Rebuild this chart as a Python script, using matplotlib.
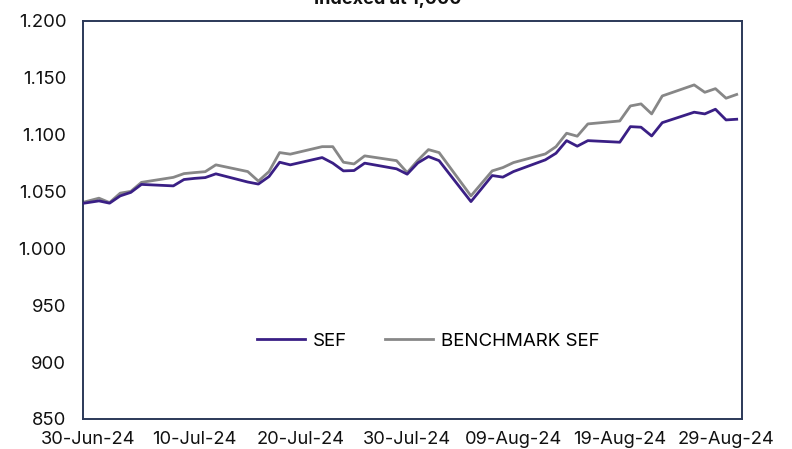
import numpy as np
import pandas as pd
import matplotlib
matplotlib.use("Agg")
import matplotlib.pyplot as plt
import matplotlib.dates as mdates
from matplotlib.ticker import FuncFormatter

# DATA
dates = pd.to_datetime([
    "2024-06-28",
    "2024-07-01", "2024-07-02", "2024-07-03", "2024-07-04", "2024-07-05",
    "2024-07-08", "2024-07-09", "2024-07-10", "2024-07-11", "2024-07-12",
    "2024-07-15", "2024-07-16", "2024-07-17", "2024-07-18", "2024-07-19",
    "2024-07-22", "2024-07-23", "2024-07-24", "2024-07-25", "2024-07-26",
    "2024-07-29", "2024-07-30", "2024-07-31", "2024-08-01", "2024-08-02",
    "2024-08-05", "2024-08-06", "2024-08-07", "2024-08-08", "2024-08-09",
    "2024-08-12", "2024-08-13", "2024-08-14", "2024-08-15", "2024-08-16",
    "2024-08-19", "2024-08-20", "2024-08-21", "2024-08-22", "2024-08-23",
    "2024-08-26", "2024-08-27", "2024-08-28", "2024-08-29", "2024-08-30",
])

sef = [
    1037.5,
    1041.8, 1039.8, 1046.2, 1049.3, 1056.3,
    1055.0, 1060.6, 1061.6, 1062.3, 1065.6,
    1058.4, 1056.6, 1063.2, 1075.8, 1073.5,
    1079.9, 1075.0, 1068.2, 1068.5, 1075.0,
    1070.0, 1065.3, 1075.2, 1080.8, 1077.2,
    1041.2, 1052.6, 1064.1, 1062.7, 1067.6,
    1077.9, 1083.7, 1094.8, 1089.9, 1094.8,
    1093.4, 1107.1, 1106.6, 1098.9, 1110.6,
    1119.8, 1118.3, 1122.4, 1113.0, 1113.6,
]

benchmark = [
    1036.8,
    1044.2, 1040.3, 1048.6, 1050.2, 1058.1,
    1062.5, 1065.8, 1066.7, 1067.5, 1073.5,
    1067.6, 1059.2, 1067.6, 1084.3, 1082.9,
    1089.5, 1089.5, 1075.8, 1074.3, 1081.4,
    1077.2, 1066.7, 1077.4, 1086.9, 1084.3,
    1046.2, 1057.2, 1068.2, 1071.1, 1075.5,
    1083.1, 1089.5, 1101.3, 1098.7, 1109.5,
    1112.1, 1125.3, 1127.1, 1118.3, 1134.1,
    1143.8, 1137.3, 1140.5, 1132.1, 1135.4,
]

labels = ["SEF", "BENCHMARK SEF"]
title = "Indexed at 1,000"

plt.rcParams['font.family'] = ['Inter', 'DejaVu Sans']

fig = plt.figure(figsize=(7.92, 4.49), dpi=100)
ax = fig.add_axes([83/792, 30/449, 659/792, 398/449])

ax.plot(dates, sef, color='#3A1F85', lw=2.0, label=labels[0], zorder=3)
ax.plot(dates, benchmark, color='#878787', lw=2.0, label=labels[1], zorder=2)

# AXES
ax.set_ylim(850, 1200)
ax.set_yticks(np.arange(850, 1201, 50))
ax.yaxis.set_major_formatter(FuncFormatter(lambda v, p: f"{v:,.0f}".replace(",", ".")))

x0 = pd.Timestamp("2024-06-29 12:00")
x1 = pd.Timestamp("2024-08-30 12:00")
ax.set_xlim(x0, x1)
ax.set_xticks(pd.date_range("2024-06-30", "2024-08-29", freq="10D"))
ax.xaxis.set_major_formatter(mdates.DateFormatter("%d-%b-%y"))

ax.tick_params(axis='both', length=0, colors='#111111')
ax.tick_params(axis='y', pad=12, labelsize=13.3)
ax.tick_params(axis='x', pad=9, labelsize=13.2)

for s in ax.spines.values():
    s.set_color('#2B3858')
    s.set_linewidth(1.4)

ax.legend(loc='center', bbox_to_anchor=(0.524, 0.196), ncol=2, frameon=False,
          fontsize=13.5, handlelength=2.56, handletextpad=0.43, columnspacing=2.0)

# title sits mostly above the image edge, like the reference
fig.text(0.489, 0.991, title, ha='center', va='baseline', fontsize=13,
         fontweight='bold', color='#111111')

fig.savefig("out.png", dpi=100)
